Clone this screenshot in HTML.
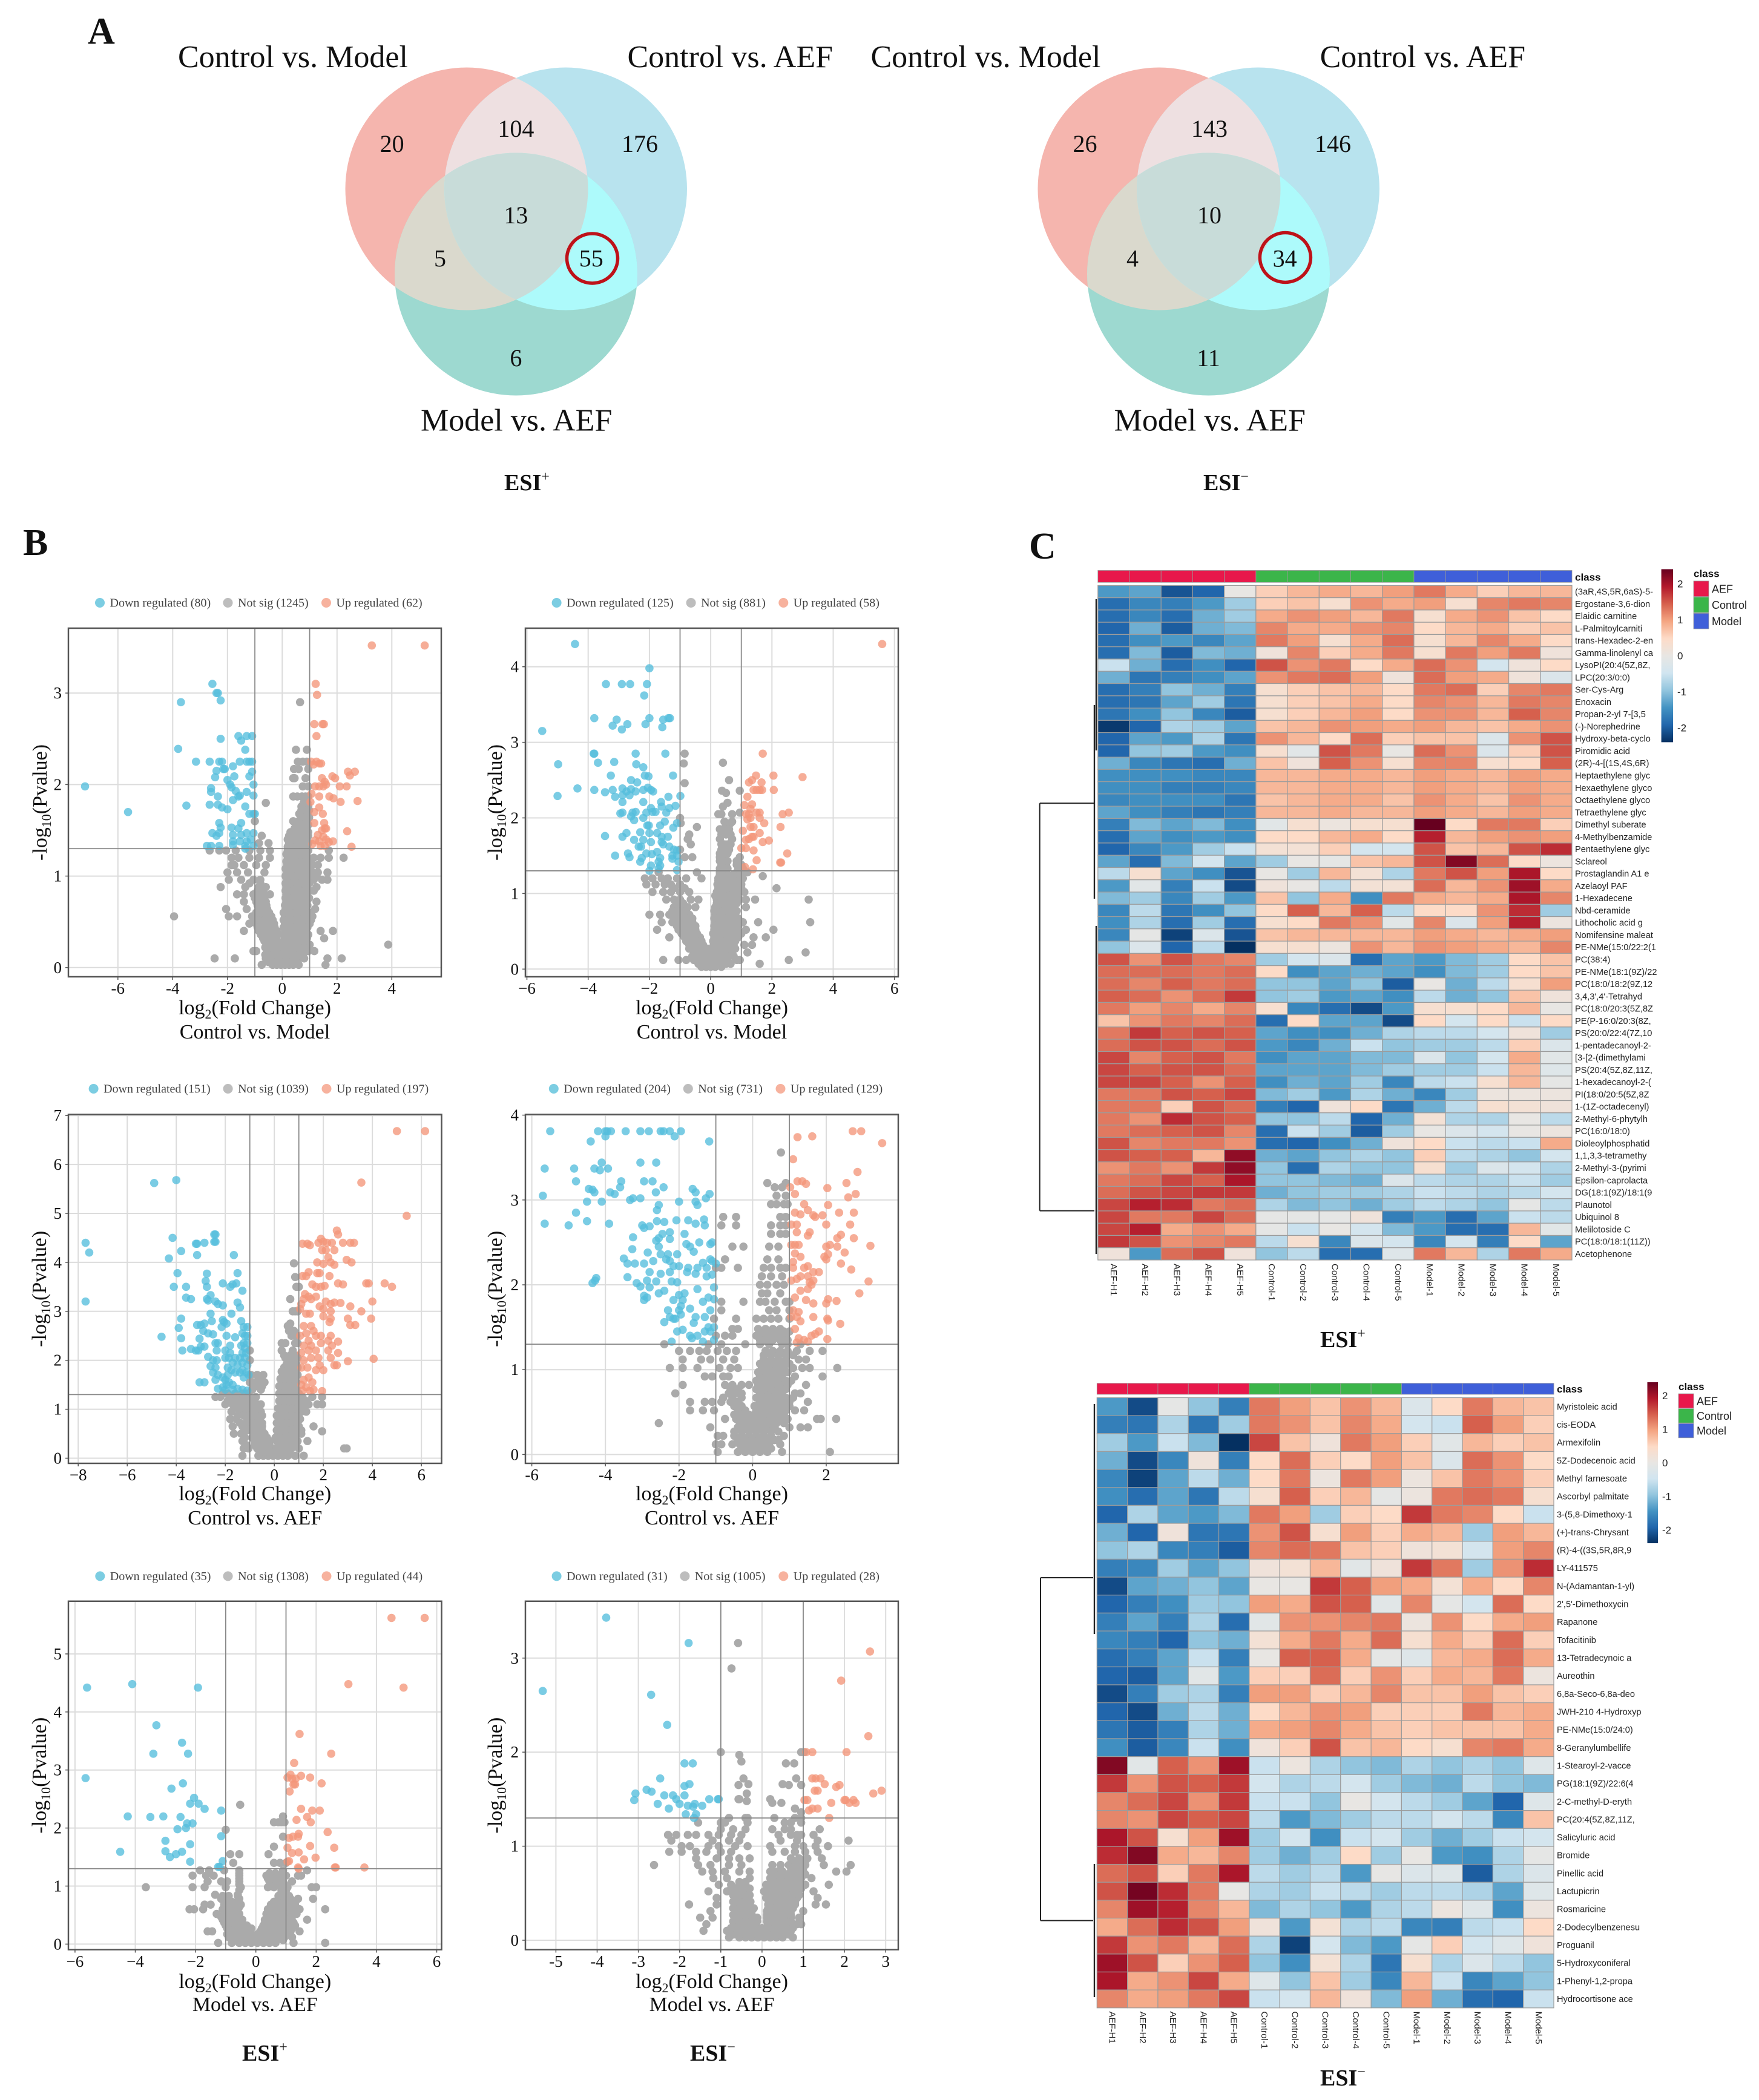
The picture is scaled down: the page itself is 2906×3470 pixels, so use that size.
<!DOCTYPE html>
<html lang="en">
<head>
<meta charset="utf-8">
<title>Venn diagrams, volcano plots and heatmaps</title>
<style>
html,body{margin:0;padding:0;background:#fff;}
svg{display:block;}
text{font-family:"Liberation Serif",serif;fill:#111;}
.sans{font-family:"Liberation Sans",sans-serif;}
</style>
</head>
<body>
<svg id="figure" xmlns="http://www.w3.org/2000/svg" width="2906" height="3470" viewBox="0 0 2906 3470">
<defs>
<clipPath id="clipC1"><circle cx="771" cy="312" r="200.5"/></clipPath>
<clipPath id="clipC2"><circle cx="934.5" cy="312" r="200.5"/></clipPath>
<linearGradient id="rdbu" x1="0" y1="0" x2="0" y2="1">
<stop offset="0" stop-color="#67001F"/><stop offset=".1" stop-color="#B2182B"/><stop offset=".2" stop-color="#D6604D"/><stop offset=".3" stop-color="#F4A582"/><stop offset=".4" stop-color="#FDDBC7"/><stop offset=".5" stop-color="#E8E6E3"/><stop offset=".6" stop-color="#D1E5F0"/><stop offset=".7" stop-color="#92C5DE"/><stop offset=".8" stop-color="#4393C3"/><stop offset=".9" stop-color="#2166AC"/><stop offset="1" stop-color="#053061"/>
</linearGradient>
</defs>
<rect width="2906" height="3470" fill="#fff"/>

<text x="145" y="72" font-size="62" font-weight="bold">A</text>
<text x="38" y="917" font-size="62" font-weight="bold">B</text>
<text x="1700" y="923" font-size="62" font-weight="bold">C</text>

<g>
<circle cx="771" cy="312" r="200.5" fill="#F5B5AE"/>
<circle cx="934.5" cy="312" r="200.5" fill="#B8E3EE"/>
<circle cx="852.5" cy="453" r="200.5" fill="#9DD9D0"/>
<g clip-path="url(#clipC1)"><circle cx="934.5" cy="312" r="200.5" fill="#EEE0E1"/></g>
<g clip-path="url(#clipC1)"><circle cx="852.5" cy="453" r="200.5" fill="#DAD9CD"/></g>
<g clip-path="url(#clipC2)"><circle cx="852.5" cy="453" r="200.5" fill="#ADFAFB"/></g>
<g clip-path="url(#clipC1)"><g clip-path="url(#clipC2)"><circle cx="852.5" cy="453" r="200.5" fill="#C8DCD9"/></g></g>
<g font-size="40" text-anchor="middle">
<text x="647.6" y="251">20</text>
<text x="852.4" y="226">104</text>
<text x="1057" y="251">176</text>
<text x="852.4" y="369">13</text>
<text x="727" y="440.5">5</text>
<text x="976.8" y="440.5">55</text>
<text x="852.4" y="605">6</text>
</g>
<ellipse cx="978.5" cy="427" rx="42" ry="41" fill="none" stroke="#BE1119" stroke-width="5.5"/>
<g font-size="52">
<text x="294" y="111">Control vs. Model</text>
<text x="1036.5" y="111">Control vs. AEF</text>
<text x="695" y="711.5">Model vs. AEF</text>
</g>
<text x="833" y="810" font-size="38" font-weight="bold">ESI<tspan dy="-15" font-size="24" font-weight="normal">+</tspan></text>
</g>

<g>
<g transform="translate(1144,0)">
<circle cx="771" cy="312" r="200.5" fill="#F5B5AE"/>
<circle cx="934.5" cy="312" r="200.5" fill="#B8E3EE"/>
<circle cx="852.5" cy="453" r="200.5" fill="#9DD9D0"/>
<g clip-path="url(#clipC1)"><circle cx="934.5" cy="312" r="200.5" fill="#EEE0E1"/></g>
<g clip-path="url(#clipC1)"><circle cx="852.5" cy="453" r="200.5" fill="#DAD9CD"/></g>
<g clip-path="url(#clipC2)"><circle cx="852.5" cy="453" r="200.5" fill="#ADFAFB"/></g>
<g clip-path="url(#clipC1)"><g clip-path="url(#clipC2)"><circle cx="852.5" cy="453" r="200.5" fill="#C8DCD9"/></g></g>
</g>
<g font-size="40" text-anchor="middle">
<text x="1792.5" y="251">26</text>
<text x="1998" y="226">143</text>
<text x="2202" y="251">146</text>
<text x="1998" y="369">10</text>
<text x="1871" y="440.5">4</text>
<text x="2122.6" y="440.5">34</text>
<text x="1996.5" y="605">11</text>
</g>
<ellipse cx="2123.4" cy="425.5" rx="42" ry="41" fill="none" stroke="#BE1119" stroke-width="5.5"/>
<g font-size="52">
<text x="1438.5" y="111">Control vs. Model</text>
<text x="2180.6" y="111">Control vs. AEF</text>
<text x="1840.6" y="711.5">Model vs. AEF</text>
</g>
<text x="1988" y="810" font-size="38" font-weight="bold">ESI<tspan dy="-15" font-size="24" font-weight="normal">−</tspan></text>
</g>

<text x="400" y="3405" font-size="38" font-weight="bold">ESI<tspan dy="-15" font-size="24" font-weight="normal">+</tspan></text>
<text x="1140" y="3405" font-size="38" font-weight="bold">ESI<tspan dy="-15" font-size="24" font-weight="normal">−</tspan></text>
<text x="2181" y="2226" font-size="38" font-weight="bold">ESI<tspan dy="-15" font-size="24" font-weight="normal">+</tspan></text>
<text x="2181" y="3446" font-size="38" font-weight="bold">ESI<tspan dy="-15" font-size="24" font-weight="normal">−</tspan></text>
</svg>

<script>
/* ---------- volcano data ---------- */
const plot1Counts=[80,1245,62];
const plot1XTicks=[-6,-4,-2,0,2,4];
const plot1YTicks=[0,1,2,3];
const plot1Down=[[-2.55,3.1],[-2.4,3],[-2.35,3],[-2.25,2.92],[-3.7,2.9],[-2.25,2.5],[-1.6,2.53],[-1.3,2.53],[-1.1,2.53],[-1.5,2.48],[-3.8,2.39],[-1.35,2.38],[-3.15,2.25],[-2.65,2.25],[-2.3,2.25],[-2.2,2.25],[-1.55,2.25],[-1.3,2.25],[-1.2,2.25],[-1.1,2.25],[-2.1,2.17],[-2.15,2.17],[-1.8,2.2],[-2.4,2.15],[-1.1,2.14],[-2.45,2.08],[-1.75,2.09],[-1.2,2.09],[-2,2.05],[-1.05,2],[-1.9,2],[-1.85,1.97],[-2.6,1.96],[-2.6,1.92],[-1.7,1.93],[-1.3,1.92],[-2.35,1.87],[-1.6,1.87],[-1.55,1.88],[-1.05,1.88],[-1.8,1.83],[-3.5,1.77],[-2.65,1.78],[-2.35,1.78],[-2.2,1.75],[-2,1.73],[-1.35,1.76],[-1.2,1.68],[-1.05,1.68],[-1,1.68],[-2.3,1.58],[-1.5,1.58],[-2.25,1.53],[-1.85,1.53],[-1.6,1.52],[-1.3,1.47],[-1.05,1.47],[-2.55,1.47],[-2.3,1.47],[-2.4,1.44],[-1.8,1.45],[-1.5,1.45],[-1.8,1.38],[-1.55,1.38],[-1.3,1.38],[-1.15,1.4],[-1.8,1.34],[-1.35,1.33],[-2.75,1.33],[-2.6,1.33],[-2.3,1.33],[-1.35,1.3],[-1.05,1.33],[-7.2,1.98],[-5.63,1.7]];
const plot1Up=[[3.27,3.52],[5.2,3.52],[1.22,3.1],[1.27,2.98],[1.17,2.66],[1.47,2.66],[1.52,2.66],[1.25,2.53],[1.05,2.25],[1.15,2.22],[1.25,2.25],[1.35,2.23],[1.42,2.23],[2.4,2.14],[2.65,2.14],[2.47,2.1],[1.45,2.07],[1.55,2.03],[1.83,2.09],[1.93,2.07],[1.2,1.98],[1.35,1.98],[1.5,1.98],[1.6,2],[2.1,1.98],[2.35,1.98],[1.07,1.9],[1.35,1.87],[1.72,1.87],[1.87,1.85],[2.13,1.81],[2.75,1.82],[1.03,1.81],[1.35,1.75],[1.17,1.7],[1.48,1.68],[1.17,1.58],[1.53,1.58],[1.55,1.52],[1.45,1.5],[1.6,1.52],[1.3,1.45],[1.5,1.43],[2.37,1.49],[1.6,1.4],[1.2,1.39],[1.35,1.38],[1.7,1.37],[1.85,1.38],[1.4,1.33],[1.55,1.33],[2.53,1.32],[1.1,1.35]];
const plot1GrayRows=[
[.03,-.75,-.35,-.2,-.05,.1,.25,.4,.6,1.58],[.1,-.6,-.45,-.3,-.15,0,.15,.3,.45,.6,.8,-2.47,-1.73,1.65,2.17],[.18,-.55,-.4,-.25,-.12,.12,.25,.4,.55,.7,.95,-1.05,-.95,1.17],[.25,-.55,-.4,-.25,-.1,.1,.25,.4,.55,.7,1,3.87],[.32,-.7,-.55,-.4,-.22,.1,.25,.4,.55,.7,.9,1.53],[.4,-.85,-.65,-.5,-.35,-.2,.1,.25,.4,.55,.7,.85,-1.4,1.4,1.85],[.48,-.95,-.75,-.6,-.45,-.3,.1,.25,.4,.55,.7,.85,1,-1.2],[.56,-1.1,-.85,-.7,-.55,-.4,.1,.25,.4,.55,.7,.85,1.1,-3.95,-1.65,-1.95],[.64,-1.3,-.85,-.7,-.55,.12,.25,.4,.55,.7,.85,1.2,-2.05],[.72,-1.4,-.95,-.75,-.6,.15,.3,.45,.6,.75,.9,1.25],[.8,-1.4,-1.05,-.85,-.65,-.45,.15,.3,.45,.6,.75,.9,-1.65],[.88,-2.25,-1.35,-.85,-.6,.15,.3,.45,.6,.75,.9,1.25],[.96,-1.95,-1.5,-1.05,-.8,.17,.3,.45,.6,.75,.9,1.15,1.45,1.65],[1.04,-2,-1.65,-1.25,-.65,.17,.3,.45,.6,.75,.9,1.1,1.3,1.65],[1.12,-1.75,-1.85,-1.4,-.95,-.6,.18,.32,.48,.62,.78,.92,1.1,1.3],[1.2,-1.85,-1.6,-1.2,-.85,-.45,.2,.35,.5,.65,.8,.95,1.15,1.4,1.7,2.24],[1.28,-2.65,-2.3,-2.05,-1.7,-1.2,-.8,-.45,.2,.35,.5,.65,.8,.95,1.7],[1.36,-.85,-.5,.25,.4,.55,.7,.85,.95],[1.44,-.75,.25,.4,.55,.7,.85,.95],[1.52,.45,.6,.75,.9],[1.6,-1,.4,.6,.75,.9],[1.68,.62,.78,.92],[1.76,.7,.85,.95],[1.8,-.6],[1.87,.4,.55,.72,.85,.95],[1.98,.75,.95],[2.07,.4,.45,.85],[2.17,.43,.6,.95],[2.25,.57,.75,.9],[2.38,.5,.9],[2.9,.65]];
const plot1GrayDense=[
[.06,-.5,-.35,-.2,-.05,.08,.2,.35,.5],[.14,-.62,-.48,-.35,-.2,-.08,.08,.2,.35,.5,.62,.75],[.22,-.62,-.48,-.33,-.18,.05,.18,.33,.48,.62,.78],[.29,-.65,-.48,-.33,-.18,.05,.18,.33,.48,.62,.8],[.36,-.78,-.62,-.48,-.3,-.15,.05,.18,.33,.48,.62,.78,.95],[.44,-.9,-.72,-.58,-.42,-.28,.05,.18,.33,.48,.62,.78,.92],[.52,-1,-.8,-.65,-.5,-.35,.05,.18,.33,.48,.62,.78,.92,1.05],[.6,-.95,-.78,-.62,-.48,.05,.18,.33,.48,.62,.78,.92,1.05],[.68,-.9,-.72,-.58,.1,.2,.33,.48,.62,.78,.92],[.76,-1,-.8,-.65,.12,.22,.38,.52,.68,.82,.98],[.84,-.9,-.72,.12,.22,.38,.52,.68,.82,.98,1.15],[.92,-1.2,-.8,.12,.22,.38,.52,.68,.82,.98],[1,.12,.22,.38,.52,.68,.82,.98,1.25],[1.08,.12,.25,.38,.52,.68,.82,.98],[1.16,.15,.25,.4,.55,.7,.85,1],[1.24,.15,.28,.42,.58,.72,.88],[1.32,.2,.32,.48,.62,.78,.9],[1.4,.2,.32,.48,.62,.78,.9],[1.48,.3,.52,.68,.82,.95],[1.56,.52,.68,.82,.95],[1.64,.68,.85,.98],[1.72,.7,.85,.98],[1.8,.78,.92]];

const plot2Counts=[125,881,58];
const plot2XTicks=[-6,-4,-2,0,2,4,6];
const plot2YTicks=[0,1,2,3,4];
const plot2Down=[[-4.43,4.3],[-2,3.98],[-3.42,3.77],[-2.9,3.77],[-2.63,3.77],[-2.08,3.77],[-2.17,3.62],[-3.8,3.32],[-3.07,3.3],[-2,3.32],[-1.55,3.3],[-1.38,3.32],[-1.33,3.32],[-3.2,3.22],[-2.72,3.24],[-2.13,3.24],[-1.58,3.2],[-2.9,3.17],[-5.5,3.15],[-3.8,2.85],[-3.82,2.85],[-2.45,2.85],[-1.48,2.85],[-3.68,2.73],[-3.15,2.74],[-4.98,2.71],[-2.43,2.71],[-2.2,2.67],[-3.26,2.56],[-2.15,2.56],[-2.03,2.55],[-1.23,2.56],[-2.6,2.5],[-2.4,2.47],[-4.35,2.39],[-3.8,2.37],[-3.45,2.34],[-3.2,2.37],[-2.88,2.39],[-2.6,2.38],[-2.75,2.35],[-2.45,2.35],[-2.2,2.37],[-2.05,2.4],[-1.95,2.37],[-1.88,2.35],[-5,2.29],[-3.12,2.28],[-2.88,2.3],[-2.65,2.3],[-1.38,2.28],[-.99,2.29],[-2.88,2.21],[-2.2,2.21],[-1.62,2.21],[-1.6,2.15],[-1.15,2.16],[-1.95,2.13],[-1.35,2.13],[-2.88,2.07],[-2.95,2.06],[-2.55,2.07],[-2.45,2.08],[-2.1,2.07],[-1.9,2.08],[-1.8,2.08],[-1.45,2.07],[-2.6,2.02],[-2.2,2],[-2.5,1.97],[-1.5,1.95],[-1.1,1.93],[-2.07,1.9],[-2.02,1.9],[-1.65,1.9],[-1.22,1.87],[-2.3,1.81],[-2,1.8],[-1.75,1.8],[-2.75,1.8],[-2.88,1.75],[-3.45,1.76],[-1.6,1.75],[-1.4,1.75],[-2.5,1.71],[-2.2,1.71],[-1.95,1.68],[-1.6,1.68],[-1.55,1.65],[-2.35,1.62],[-2.27,1.62],[-1.35,1.62],[-1.2,1.58],[-1.1,1.57],[-2.1,1.53],[-1.92,1.52],[-1.75,1.55],[-1.25,1.5],[-1.1,1.5],[-3.12,1.5],[-2.7,1.53],[-2.65,1.48],[-2.25,1.47],[-1.65,1.47],[-1.25,1.46],[-2.3,1.42],[-1.7,1.42],[-1.05,1.42],[-1.95,1.37],[-1.65,1.37],[-2,1.3],[-1.7,1.33],[-1.1,1.31]];
const plot2Up=[[5.6,4.3],[1.7,2.85],[3,2.54],[1.48,2.56],[2.05,2.56],[1.35,2.5],[1.25,2.47],[1.66,2.47],[1.4,2.37],[1.5,2.37],[1.6,2.37],[1.68,2.37],[2.06,2.37],[1.2,2.28],[1.35,2.18],[1.1,2.17],[1.3,2.12],[1.15,2.05],[1.25,2.05],[1.5,2.07],[1.6,2.07],[2.35,2.05],[2.55,2.07],[1.2,1.98],[1.3,2],[1.6,2],[1.75,1.93],[1.3,1.88],[1.4,1.88],[2.28,1.88],[1.05,1.83],[1.6,1.8],[1.35,1.75],[1.25,1.72],[1.15,1.71],[1.4,1.75],[1.7,1.68],[1.9,1.7],[1,1.6],[1.15,1.6],[1.4,1.57],[2.5,1.53],[1.5,1.44],[2.27,1.41],[2.3,1.41],[1.12,1.35],[1.38,1.32]];
const plot2GrayRows=[
[.03,-.3,-.15,0,.15,.35],[.07,1.6],[.12,-1.05,-.8,-.55,-.4,-.25,-.1,.05,.2,.35,.5,.85,.95,-1.55,2.55],[.22,-.55,-.4,-.25,-.1,.05,.2,.35,.5,.65,1.2,3.1],[.32,-.7,-.55,-.4,-.25,.1,.25,.4,.55,.75,1.35,1.1],[.42,-.85,-.7,-.5,-.35,.12,.25,.4,.55,.7,.9,-1.35,1.4,1.8],[.52,-1.05,-.85,-.7,-.5,.12,.3,.45,.6,.85,1.15,-1.75,2.05],[.62,-1.25,-.95,-.8,-.6,.15,.3,.45,.6,.8,1.05,-1.6,1.55,3.25],[.72,-1.35,-1.1,-.9,-.7,.15,.3,.45,.6,.8,-2,-1.65],[.82,-1.2,-1,-.75,-.5,.15,.3,.45,.6,.75,1.15],[.92,-1.45,-1.2,-1,-.65,-.4,.2,.35,.5,.7,.95,1.15,1.45,3.2],[1.02,-1.9,-1.55,-1.3,-1,-.7,.2,.35,.5,.75,.95,1.1],[1.07,2.15],[1.12,-2.1,-1.8,-1.5,-1.3,-1,.22,.38,.55,.8,1],[1.2,-2.15,-1.9,-1.6,-1.4,-1.1,-.8,-.3,.25,.4,.55,.85,1.05],[1.23,1.7],[1.28,-1.7,-.45,.3,.45,.85,1.05,1.2],[1.38,.35,.5,.85,1],[1.48,-.6,.3,.45,.95,-.85],[1.58,.35,.5,-1,.6],[1.65,-.65],[1.72,.3,.7,-.75],[1.78,-.7,.35,.5,.65],[1.88,-.45],[1.93,.55,.65,-.98],[2,-1],[2.05,.25,.35,.7],[2.07,.95],[2.15,.4],[2.2,.55],[2.33,.5],[2.36,.37,.95],[2.46,-.85],[2.5,.6],[2.72,-.88],[2.73,.4],[2.85,-.85]];
const plot2GrayDense=[
[.07,-.4,-.25,-.1,.05,.2,.35,.5,.65],[.17,-.6,-.45,-.3,-.15,0,.15,.3,.45,.6,.75],[.27,-.7,-.55,-.4,-.25,-.1,.08,.2,.35,.5,.65,.8],[.37,-.8,-.65,-.45,-.3,.08,.2,.35,.5,.65,.8],[.47,-.95,-.8,-.65,-.45,.08,.2,.35,.5,.65,.8,1],[.57,-1.1,-.95,-.8,-.65,-.5,.12,.25,.4,.55,.7,.9],[.67,-1.2,-1.05,-.9,-.75,-.6,.12,.25,.4,.55,.7,.9],[.77,-1.25,-1.1,-.95,-.8,.12,.25,.4,.55,.7,.85],[.87,.2,.3,.4,.5,.65,.85,-1.1,-.9],[.97,.15,.3,.45,.6,.85],[1.07,.25,.4,.55,.7,.85,1,-1.2,-.85],[1.17,.25,.4,.5,.7,.9],[1.25,.3,.4,.55,.75,.95],[1.33,.3,.42,.55,.9,1.05],[1.43,.3,.42,.55,.85],[1.53,.3,.42,.55],[1.65,.35,.45,.55,.65],[1.85,.3,.4,.6],[1.95,.45,.7]];

const plot3Counts=[151,1039,197];
const plot3XTicks=[-8,-6,-4,-2,0,2,4,6];
const plot3YTicks=[0,1,2,3,4,5,6,7];
const plot3Down=[[-4,5.68],[-4.9,5.62],[-2.45,4.57],[-2.4,4.57],[-4.15,4.5],[-2.45,4.42],[-2.4,4.42],[-3.2,4.38],[-3.15,4.38],[-2.85,4.4],[-7.7,4.4],[-7.55,4.2],[-3.8,4.23],[-3.15,4.15],[-1.65,4.15],[-4.3,4.08],[-3.95,3.78],[-2.75,3.77],[-1.5,3.78],[-2.8,3.62],[-4.1,3.5],[-3.6,3.5],[-2.75,3.5],[-2.1,3.57],[-1.7,3.55],[-1.55,3.57],[-1.8,3.5],[-1.3,3.42],[-2.6,3.33],[-3.6,3.28],[-3.4,3.25],[-2.75,3.25],[-2.7,3.22],[-7.7,3.2],[-2.4,3.2],[-2.3,3.15],[-2.1,3.12],[-1.5,3.18],[-1.4,3.08],[-1.75,2.95],[-2.6,2.95],[-3.8,2.85],[-2.55,2.8],[-2.1,2.82],[-2.05,2.78],[-1.35,2.8],[-3.15,2.72],[-3,2.72],[-2.85,2.75],[-3.9,2.66],[-2.15,2.68],[-1.95,2.75],[-1.25,2.68],[-1.1,2.68],[-2.9,2.6],[-2.7,2.55],[-2.5,2.53],[-1.95,2.5],[-1.6,2.47],[-1.3,2.55],[-1.2,2.5],[-1.1,2.5],[-4.6,2.48],[-3.8,2.45],[-3.05,2.44],[-2.4,2.35],[-2.3,2.35],[-1.8,2.3],[-1.35,2.3],[-1.25,2.35],[-1.1,2.35],[-1.2,2.25],[-3,2.28],[-2.85,2.28],[-3.1,2.2],[-3.4,2.23],[-3.75,2.2],[-3.2,2.2],[-2.35,2.2],[-2,2.2],[-1.8,2.15],[-1.3,2.15],[-1.15,2.15],[-2,2.05],[-1.85,2.05],[-1.6,2.05],[-1.4,2.05],[-1.2,2.05],[-2.7,2.07],[-2.5,2],[-2.35,2],[-1.7,1.95],[-1.5,1.9],[-1.3,1.95],[-1.1,1.9],[-2.6,1.88],[-2.4,1.85],[-1.9,1.85],[-1.75,1.8],[-1.3,1.8],[-1.15,1.75],[-2.5,1.75],[-2.3,1.7],[-2.1,1.65],[-1.9,1.7],[-1.6,1.75],[-1.4,1.75],[-1.25,1.65],[-1.05,1.7],[-2.4,1.6],[-2,1.6],[-1.85,1.55],[-3.05,1.55],[-2.85,1.55],[-2.1,1.45],[-1.95,1.5],[-1.7,1.5],[-2.3,1.42],[-2,1.4],[-1.7,1.4],[-1.5,1.42],[-1.3,1.4],[-1.1,1.38]];
const plot3Up=[[5,6.68],[6.15,6.68],[3.55,5.63],[5.4,4.95],[2.55,4.65],[2.6,4.57],[1.9,4.48],[1.15,4.38],[1.35,4.38],[1.45,4.35],[1.8,4.4],[2,4.42],[2.15,4.4],[2.35,4.4],[2.8,4.4],[3.1,4.4],[3.25,4.4],[1.95,4.25],[2.1,4.25],[2.45,4.25],[2.2,4.1],[2.3,4],[2.45,3.95],[1.75,4],[2,3.97],[2.95,4.05],[3.15,4],[1.15,3.72],[1.3,3.72],[1.4,3.8],[1.75,3.78],[1.85,3.78],[2.25,3.72],[1.55,3.55],[1.7,3.5],[1.9,3.5],[2.05,3.52],[2.6,3.57],[2.8,3.55],[3.75,3.57],[3.85,3.57],[4.5,3.57],[4.8,3.5],[1.25,3.35],[1.4,3.3],[1.2,3.25],[1.5,3.25],[1.7,3.3],[1.1,3.15],[1.85,3.1],[2.1,3.2],[2.3,3.15],[2.45,3.18],[2.7,3.17],[1.05,3.05],[2,3.05],[2.3,3],[3.1,3.1],[3.55,3],[4,3.2],[2,2.9],[1.3,2.95],[1.45,2.95],[2.3,2.85],[2.25,2.78],[3,2.85],[3.95,2.85],[3.1,2.72],[3.3,2.72],[1.2,2.7],[1.5,2.7],[1.6,2.6],[1.3,2.55],[1.7,2.5],[1.05,2.5],[1.4,2.4],[1.9,2.5],[2.3,2.5],[2.2,2.4],[2.6,2.38],[1.2,2.3],[1.5,2.3],[1.9,2.35],[2.35,2.3],[1.1,2.15],[1.4,2.2],[1.7,2.2],[2.2,2.2],[2.3,2.05],[2.6,2.15],[4.05,2.03],[3,1.98],[1.2,2],[1.5,2.05],[1.8,2.05],[2.45,1.9],[2.55,1.9],[1.1,1.85],[1.35,1.85],[1.7,1.8],[2,1.8],[1.85,1.9],[1.2,1.6],[1.4,1.65],[1.55,1.55],[1.1,1.5],[1.3,1.45],[1.6,1.4],[1.95,1.37],[1.15,1.38],[1.45,1.38]];
const plot3GrayRows=[
[.05,-1.3,-.65,-.45,-.25,-.05,.15,.35,.55,.85,1.2],[.2,-1.25,-1.05,-.7,-.5,-.3,-.1,.1,.3,.5,.7,1,2.85,2.95],[.35,-1.3,-.8,-.6,-.4,-.2,.1,.3,.5,.7,.95,1.35],[.5,-1.65,-1.35,-1.25,-.85,-.65,-.4,.2,.4,.6,.8,1.1],[.55,1.95],[.65,-1.7,-1.3,-1,-.75,-.5,.2,.4,.6,.8,1,1.6],[.8,-1.8,-1.55,-1.1,-.85,-.6,.2,.4,.6,.8,1.05],[.95,-1.75,-1.3,-1.05,-.8,-.55,.25,.45,.65,.85,1.1,1.3],[1.1,-2,-1.7,-1.4,-1.1,-.85,-.55,.3,.5,.7,.9,1.15,1.4,1.75,1.95],[1.25,-2.4,-2.2,-1.75,-1.5,-1.25,-1,-.75,.3,.5,.7,.9,1.15,1.55,1.95],[1.4,-.9,-.55,.3,.5,.7,.9],[1.55,-1,-.8,-.4,.3,.5,.7,.9],[1.7,-.95,-.7,-.45,.35,.55,.75,.95],[1.85,.4,.6,.8,.95],[2,-1,.55,.7,.85],[2.1,.4,.65,.85],[2.2,-1,.3,.75],[2.35,.3,.45,.85,.95],[2.5,.7,.9],[2.7,.55,.6],[2.75,.65],[3,.75,.85,.95],[3.25,.65],[3.5,.9,1],[3.7,.85],[3.98,.8]];
const plot3GrayDense=[
[.12,-.6,-.4,-.2,0,.2,.4,.6],[.27,-1.15,-.8,-.6,-.4,-.2,.2,.4,.6,.8],[.42,-1.2,-.9,-.7,-.5,-.3,.05,.25,.45,.65,.85],[.57,-1.1,-.9,-.7,-.5,.1,.3,.5,.7,.9,1.1],[.72,-1.4,-1.15,-.9,-.7,-.5,.1,.3,.5,.7,.9],[.87,-1.5,-1.25,-1,-.75,-.5,.1,.3,.5,.7,.95],[1.02,-1.5,-1.2,-.95,-.7,.15,.35,.55,.75,.95,1.2],[1.17,-1.9,-1.6,-1.3,-1,-.8,.2,.4,.6,.8,1,1.3],[1.32,-2.1,-1.9,-1.6,-1.3,-1.1,.2,.4,.6,.8,1],[1.47,.2,.4,.6,.8,-.7,-.5],[1.62,.25,.4,.6,.8,-.6],[1.77,.3,.45,.65,.85],[1.92,.5,.7,.9],[2.05,.45,.75,.95],[2.6,.6,.7,.8]];

const plot4Counts=[204,731,129];
const plot4XTicks=[-6,-4,-2,0,2];
const plot4YTicks=[0,1,2,3,4];
const plot4Down=[[-5.5,3.81],[-4.2,3.81],[-4,3.81],[-3.95,3.81],[-3.85,3.81],[-3.45,3.81],[-3.05,3.81],[-2.82,3.81],[-2.5,3.81],[-2.42,3.81],[-2.25,3.81],[-1.95,3.81],[-4,3.75],[-2.12,3.75],[-4.4,3.69],[-1.18,3.69],[-4.1,3.44],[-3.05,3.44],[-2.62,3.44],[-5.65,3.37],[-4.85,3.37],[-4.3,3.37],[-4.15,3.35],[-3.93,3.37],[-4.8,3.22],[-3.57,3.22],[-2.95,3.22],[-2.72,3.22],[-4.45,3.13],[-4.35,3.12],[-3.6,3.15],[-2.42,3.15],[-1.63,3.13],[-4.3,3.09],[-3.75,3.07],[-3.87,3.09],[-1.55,3.09],[-2.63,3.09],[-1.17,3.07],[-5.7,3.05],[-3.33,3],[-3.25,3.02],[-3.05,3.02],[-4.5,2.98],[-4.1,2.98],[-2,2.98],[-1.55,2.98],[-1.27,3.02],[-1.5,2.94],[-2.55,2.94],[-2.6,2.88],[-4.8,2.85],[-4.5,2.75],[-2.6,2.75],[-2.4,2.74],[-2.07,2.76],[-1.75,2.76],[-1.32,2.77],[-3.9,2.72],[-5.65,2.72],[-5,2.7],[-3,2.7],[-2.95,2.67],[-2.8,2.69],[-1.55,2.72],[-1.3,2.7],[-2.25,2.62],[-2.45,2.6],[-1.85,2.6],[-3.25,2.56],[-2.55,2.55],[-2.62,2.52],[-2.25,2.54],[-1.45,2.5],[-1.15,2.48],[-1.1,2.5],[-1.8,2.48],[-1.7,2.45],[-2.55,2.45],[-3.27,2.42],[-1.6,2.39],[-2.85,2.38],[-2.5,2.36],[-2.3,2.36],[-2.05,2.36],[-3.5,2.31],[-3.4,2.25],[-3.2,2.25],[-2.95,2.25],[-2.7,2.28],[-2.35,2.3],[-2.25,2.28],[-1.35,2.26],[-1.15,2.3],[-1,2.25],[-1.1,2.28],[-2.15,2.22],[-2,2.22],[-1.75,2.2],[-1.5,2.2],[-1.25,2.2],[-2.8,2.15],[-2.5,2.13],[-2.25,2.15],[-1.78,2.15],[-1.55,2.13],[-1.25,2.1],[-1.1,2.12],[-3.4,2.09],[-2.87,2.05],[-2.62,2.04],[-2.2,2.04],[-2.05,2.03],[-3.15,2.02],[-3.05,1.98],[-2.8,1.97],[-2.55,1.9],[-2.4,1.93],[-2,1.88],[-1.85,1.9],[-1.5,1.95],[-1.05,1.97],[-4.35,2.02],[-4.25,2.08],[-4.28,2.05],[-2.95,1.87],[-2.87,1.85],[-2.95,1.82],[-2.15,1.82],[-1.9,1.82],[-1.35,1.8],[-1.2,1.85],[-1.05,1.83],[-1.95,1.75],[-1.7,1.72],[-2.3,1.7],[-2,1.7],[-1.15,1.7],[-1.95,1.65],[-2.25,1.62],[-2.1,1.6],[-1.55,1.62],[-1.3,1.62],[-2.4,1.56],[-2.15,1.6],[-1.6,1.55],[-1.2,1.5],[-1.05,1.5],[-2.05,1.45],[-1.9,1.47],[-1.3,1.45],[-1.15,1.45],[-1.7,1.4],[-1.5,1.4],[-1.65,1.37],[-2.2,1.33],[-1.35,1.33],[-1.05,1.35]];
const plot4Up=[[2.72,3.81],[2.95,3.81],[1.22,3.74],[1.62,3.75],[3.52,3.67],[1.1,3.48],[2.85,3.33],[1.22,3.22],[1.35,3.22],[1.45,3.19],[2.55,3.2],[1.02,3.15],[2.03,3.14],[2.8,3.07],[1.15,3.07],[2.6,3.03],[1.4,2.95],[2.05,2.94],[1.5,2.88],[1.15,2.85],[1.3,2.83],[1.65,2.82],[1.7,2.8],[1.9,2.82],[2.35,2.85],[2.75,2.85],[1.05,2.71],[1.2,2.71],[2,2.71],[2.65,2.71],[1.2,2.62],[1.55,2.62],[2.4,2.59],[2.3,2.55],[2.75,2.55],[1.5,2.58],[1.05,2.47],[1.15,2.47],[1.25,2.47],[2.1,2.47],[2,2.45],[2.3,2.45],[3.2,2.46],[1.15,2.37],[1.3,2.33],[2.05,2.36],[2.5,2.38],[1.95,2.33],[2,2.3],[1.1,2.27],[2.4,2.25],[1.5,2.22],[1.1,2.2],[1.4,2.2],[2.68,2.18],[1.8,2.15],[1.65,2.15],[1.3,2.1],[1.5,2.1],[1.65,2.05],[1.05,2.05],[1.2,2.07],[1.55,2.03],[1.6,2],[3.15,2.04],[1.3,1.93],[1.5,1.95],[2.9,1.9],[1.15,1.85],[1.45,1.82],[2.05,1.83],[2,1.78],[1.65,1.78],[2.28,1.81],[1.1,1.7],[1.25,1.68],[1.05,1.62],[1.2,1.62],[1.65,1.62],[2.03,1.6],[2.05,1.58],[1.3,1.57],[2.38,1.54],[1.15,1.48],[1.8,1.45],[1.6,1.4],[1.7,1.42],[1.25,1.37],[1.4,1.35],[2.03,1.36],[1.2,1.32],[1.5,1.33]];
const plot4GrayRows=[
[.03,-.95,-.4,-.2,0,.2,.4,.8,2.1],[.12,-1,-.85,-.55,-.35,-.15,.05,.25,.45,.75],[.22,-.95,-.8,-.5,-.3,-.1,.1,.3,.5,.85],[.32,-1.15,-.4,-.2,0,.2,.4,.6,1,1.3,1.5],[.37,-2.55],[.42,-.75,-.45,-.25,-.05,.15,.35,.55,.75,.95,1.75,1.85,2.27],[.52,-1.7,-1.35,-1.05,-.4,-.2,.1,.3,.5,.7,.9,1.15,1.4],[.62,-1.7,-1.3,-1.1,-.85,-.6,-.4,.2,.4,.6,.8,1,1.5],[.72,-2.1,-.65,-.45,-.3,.2,.4,.6,.8,1.15,1.3],[.82,-1.9,-.75,-.55,-.3,-.1,.15,.35,.55,.75,.95,1.45],[.92,-1.3,-1.1,-.8,-.65,.2,.4,.6,.8,1.15,1.9],[1.02,-2.25,-1.9,-1.5,-.9,-.6,-.4,.25,.45,.65,.85,1.1,1.35,1.55,2.3],[1.12,-1.9,-1.4,-1.15,-.8,-.5,.3,.5,.7,.9,1.25,1.45],[1.22,-2,-1.7,-1.45,-1.25,-.95,-.7,-.45,.35,.55,.75,.95,1.2,1.55,1.9],[1.3,-2.4,-1.2,-.85,-.2,.2,.45,.8,.95,1.3],[1.4,-1,-.75,-.55,.1,.3,.5,.7,.9],[1.48,-.55,-.4,.15,.35,.55,.75],[1.6,-1.05,-.45,.1,.3,.5,.7,1],[1.7,-.85,.45,.65,1],[1.8,-.85,-.25,.2,.35,.6,.9,1],[1.9,.25,.4,.75],[2,.2,.4,.65,.85],[2.1,.25,.5,.8],[2.2,-1,-.85,-.4,.3,.5,.75,.9],[2.3,-.75,.4,.7],[2.45,-.55,-.25,.45,.7],[2.6,.5,.75,.9],[2.7,-.85,-.45,.5,.75,.9],[2.8,-.8,-.45,.75,.9],[2.95,.5,.65,.85,.95],[3.05,.65,.9],[3.15,.6,.8],[3.2,.4,.9],[3.56,.77]];
const plot4GrayDense=[
[.07,-.3,-.1,.1,.3,.5],[.17,-.4,-.2,0,.2,.4,.6,.7],[.27,-.5,-.3,-.1,.1,.3,.5,.7],[.37,-.35,-.15,.05,.25,.45,.65,.85],[.47,-.5,-.3,-.1,.05,.25,.45,.65,.85],[.57,-.5,-.3,.05,.25,.45,.65,.85,1],[.67,-.8,-.55,-.3,.1,.3,.5,.7,.9,1.1],[.77,-.6,-.4,.1,.3,.5,.7,.9],[.87,.1,.3,.5,.7,.9,1.05],[.97,.15,.35,.55,.75,.95],[1.07,.2,.4,.6,.8,1],[1.17,.3,.5,.7,.9,1.1],[1.35,.2,.35,.55,.75,.95],[1.45,.25,.45,.65,.85,1]];

const plot5Counts=[35,1308,44];
const plot5XTicks=[-6,-4,-2,0,2,4,6];
const plot5YTicks=[0,1,2,3,4,5];
const plot5Down=[[-5.6,4.42],[-4.1,4.48],[-1.92,4.42],[-3.3,3.77],[-2.45,3.47],[-3.4,3.28],[-2.25,3.28],[-5.65,2.86],[-2.42,2.77],[-2.8,2.68],[-2.05,2.52],[-2.18,2.42],[-1.9,2.42],[-1.7,2.33],[-1.15,2.3],[-4.25,2.2],[-3.5,2.19],[-3.07,2.2],[-2.5,2.19],[-2.28,2.08],[-2.1,2.08],[-2.6,1.98],[-2.32,2],[-3,1.78],[-1.15,1.86],[-2.18,1.72],[-4.5,1.59],[-3,1.6],[-2.65,1.55],[-2.45,1.59],[-2.85,1.5],[-2.18,1.42],[-1.1,1.43],[-1.25,1.33],[-1.2,1.33]];
const plot5Up=[[4.5,5.62],[5.6,5.62],[3.07,4.48],[4.9,4.42],[1.45,3.62],[2.5,3.28],[1.27,3.12],[1.15,2.92],[1.5,2.9],[1.05,2.87],[1.2,2.85],[1.32,2.85],[1.8,2.87],[1.3,2.75],[1.25,2.75],[2.18,2.77],[1.12,2.63],[1.5,2.33],[1.87,2.3],[2.12,2.3],[1.35,2.14],[1.7,2.19],[1.82,2.1],[2.38,1.93],[1.42,1.9],[1.23,1.85],[1.4,1.85],[1.1,1.83],[1.8,1.69],[2.6,1.66],[1.05,1.66],[1.2,1.57],[1.42,1.58],[1.98,1.49],[1.6,1.46],[1.1,1.43],[2.65,1.32],[2.62,1.32],[3.6,1.32],[1.42,1.3],[1.05,1.42],[1.4,1.32]];
const plot5GrayRows=[
[.02,-1.25,-.8,-.55,-.35,-.15,.05,.25,.45,.65,1.25,2.3],[.12,-.9,-.65,-.45,-.25,-.05,.15,.35,.55,.75,.95,1.2],[.22,-1.6,-1.45,-.85,-.65,-.45,-.2,.15,.35,.55,.75,.95,1.15,1.45],[.32,-1,-.75,-.55,-.3,.25,.45,.65,.85,1.05,1.3],[.42,-1.1,-.85,-.65,-.45,.3,.5,.7,.9,1.1,1.7],[.52,-1.3,-.95,-.75,-.55,.35,.55,.75,.95,1.15,1.35],[.6,-2.2,-2.05,-1.75,-1.1,-.85,-.6,.4,.6,.8,1,1.2,1.45,2.3],[.68,-1.7,-1.5,-1.05,-.75,-.5,.5,.7,.9,1.1,1.3],[.78,-1.15,-.9,-.55,.75,.95,1.15,1.4,1.9],[.85,-1.35,-.6,.8,1],[.98,-3.65,-2.1,-1.7,-1,-.5,.4,.6,.85,1.05,1.85,2],[1.08,-1.6,-1.15,-.95,-.55,.45,.65,.9,1.2],[1.18,-2.1,-1.65,-1.4,-.55,.35,.55,.8,1,1.4,1.5],[1.27,-1.85,-1.55,-1.05,-.55,.9,1.7],[1.4,-.75,.6,.8,1],[1.55,-.85,-.55,.42],[1.68,.6],[1.85,.9],[1.97,-1],[2.1,.6,.75,.85,.95],[2.2,.9],[2.4,-.52]];
const plot5GrayDense=[
[.07,-.7,-.5,-.3,-.1,.1,.3,.5,.7,.9],[.17,-.95,-.75,-.55,-.35,-.15,.05,.25,.45,.65,.85,1.05],[.27,-.95,-.75,-.55,-.35,-.15,.2,.4,.6,.8,1,1.2],[.37,-1.05,-.85,-.65,-.45,.3,.5,.7,.9,1.1,1.25],[.47,-1.15,-.95,-.75,-.55,.4,.6,.8,1,1.2],[.56,-1,-.8,-.6,.45,.65,.85,1.05,1.25],[.64,-.95,-.75,-.55,.5,.7,.9,1.1],[.73,-1,-.8,-.6,.6,.8,1,1.2],[.83,-1.1,-.9,-.6,.75,.9,1.1],[.93,-.55,.85,1],[1.03,-.55,.5,.7,.95],[1.13,-.55,.4,.6,.85],[1.22,-.55,.45,.65,.9]];

const plot6Counts=[31,1005,28];
const plot6XTicks=[-5,-4,-3,-2,-1,0,1,2,3];
const plot6YTicks=[0,1,2,3];
const plot6Down=[[-3.78,3.43],[-1.78,3.16],[-5.32,2.65],[-2.69,2.61],[-2.3,2.29],[-1.88,1.88],[-1.68,1.88],[-2.47,1.72],[-1.88,1.64],[-1.76,1.66],[-3.07,1.56],[-2.8,1.6],[-2.68,1.58],[-2.37,1.54],[-2.16,1.54],[-1.88,1.54],[-3.1,1.49],[-2.08,1.5],[-1.28,1.5],[-1.07,1.5],[-1.05,1.5],[-2,1.45],[-2.53,1.45],[-1.8,1.43],[-1.67,1.42],[-1.63,1.45],[-1.45,1.43],[-2.26,1.4],[-1.85,1.34],[-1.6,1.34],[-1.65,1.3]];
const plot6Up=[[2.62,3.07],[1.92,2.76],[2.58,2.17],[1.07,2],[1.22,2],[2.05,2],[1.22,1.72],[1.3,1.72],[1.42,1.72],[1.52,1.66],[1.8,1.63],[1.88,1.65],[1.28,1.59],[1.35,1.59],[2.7,1.56],[2.9,1.59],[1.03,1.49],[1.1,1.49],[2,1.49],[2.03,1.49],[2.22,1.49],[1.68,1.46],[2.12,1.46],[2.27,1.46],[1.22,1.4],[1.35,1.4],[1.14,1.38],[1.63,1.3]];
const plot6GrayRows=[
[.03,-.8,-.55,-.4,-.25,-.1,.05,.2,.35,.5,.75],[.1,-1.42,-.85,-.65,-.5,-.35,-.2,-.05,.1,.25,.4,.55,.7],[.17,-1.35,-.6,-.45,-.3,-.15,.15,.3,.45,.6,.85,.95],[.24,-1.5,-1.2,-.6,-.45,-.3,-.12,.12,.25,.4,.55,.7,.9],[.31,-1.25,-.55,-.4,-.25,.12,.25,.4,.55,.7,1],[.38,-1.77,-1.1,-.6,-.45,-.3,.15,.3,.45,.6,.8,1.3,1.55],[.45,-1.1,-.65,-.5,-.35,.1,.25,.4,.55,.7,.85,1.35],[.52,-1.3,-.85,-.65,-.5,-.35,.05,.2,.35,.5,.65,.8,1.25],[.59,-1.05,-.75,-.55,-.4,.1,.25,.4,.55,.7,.85,1.05,1.62],[.66,-1.18,-.85,-.3,.2,.35,.5,.65,.8,.95,1.2],[.73,-1.45,-1.2,-.9,-.55,-.3,.2,.35,.5,.7,.85,1,1.8,2.05],[.8,-2.62,-1.55,-1.25,-.8,-.5,.25,.45,.65,.85,1.05,1.5,2.15],[.87,-1.6,-1.1,-.8,-.55,-.3,.7,.9,1.1,1.45],[.94,-2.25,-1.95,-1.6,-1.35,-1,-.75,.25,.55,.8,1.05,1.35],[1,-1.95,-1.75,-1.3,-1.05,-.65,-.35,.2,.8,1,1.3,1.6],[1.06,-2.2,-1.2,-.8,-.55,.45,.85,1.35,2.1],[1.12,-2.28,-2.08,-1.8,-1.6,-1.3,-1.05,-.75,-.5,.4,.7,.85,.95,1.25],[1.18,-1,-.7,-.4,.25,.55,.7,1.4],[1.25,-1.55,-1,-.9,-.35,.55,.7,.95],[1.3,-.8,-.4,-.35,.3,.8,.95],[1.36,.95],[1.4,.8],[1.48,-.37],[1.46,.25,.47],[1.5,-.57,-.55,.2],[1.56,-.37],[1.65,-.57,.65,.95],[1.66,-.33,.5],[1.72,-.45,.83],[1.88,.58,.78],[1.9,-.5],[1.97,-.55],[2,-1,.95,1.02],[2.89,-.74],[3.16,-.58]];
const plot6GrayDense=[
[.06,-.7,-.55,-.4,-.25,-.1,.05,.2,.35,.5,.65],[.13,-.75,-.6,-.45,-.3,-.15,0,.15,.3,.45,.6,.75],[.2,-.7,-.55,-.4,-.25,-.12,.12,.25,.4,.55,.7],[.27,-.7,-.55,-.4,-.25,.12,.25,.4,.55,.7],[.34,-.7,-.5,-.35,-.2,.15,.3,.45,.6,.75],[.41,-.7,-.55,-.4,-.28,.2,.35,.5,.65,.8],[.48,-.7,-.55,-.42,-.3,.15,.3,.45,.6,.75,.9],[.55,-.75,-.6,-.45,-.3,.15,.3,.45,.6,.75,.95],[.62,-.55,-.4,.3,.45,.6,.75,.9],[.7,.3,.45,.6,.75,.9,1.05],[.77,.7,.85,1],[.84,.8,.95,1.05]];

/* ---------- heatmap data ---------- */
const sampleNames=["AEF-H1","AEF-H2","AEF-H3","AEF-H4","AEF-H5","Control-1","Control-2","Control-3","Control-4","Control-5","Model-1","Model-2","Model-3","Model-4","Model-5"];
const sampleClasses=[0,0,0,0,0,1,1,1,1,1,2,2,2,2,2];
const classNames=["AEF","Control","Model"];
const classColors=["#E8184B","#3BB54A","#3F5FD9"];
const colorbarTicks=[2,1,0,-1,-2];

const heatTopRows=["(3aR,4S,5R,6aS)-5-","Ergostane-3,6-dion","Elaidic carnitine","L-Palmitoylcarniti","trans-Hexadec-2-en","Gamma-linolenyl ca","LysoPI(20:4(5Z,8Z,","LPC(20:3/0:0)","Ser-Cys-Arg","Enoxacin","Propan-2-yl 7-[3,5","(-)-Norephedrine","Hydroxy-beta-cyclo","Piromidic acid","(2R)-4-[(1S,4S,6R)","Heptaethylene glyc","Hexaethylene glyco","Octaethylene glyco","Tetraethylene glyc","Dimethyl suberate","4-Methylbenzamide","Pentaethylene glyc","Sclareol","Prostaglandin A1 e","Azelaoyl PAF","1-Hexadecene","Nbd-ceramide","Lithocholic acid g","Nomifensine maleat","PE-NMe(15:0/22:2(1","PC(38:4)","PE-NMe(18:1(9Z)/22","PC(18:0/18:2(9Z,12","3,4,3',4'-Tetrahyd","PC(18:0/20:3(5Z,8Z","PE(P-16:0/20:3(8Z,","PS(20:0/22:4(7Z,10","1-pentadecanoyl-2-","[3-[2-(dimethylami","PS(20:4(5Z,8Z,11Z,","1-hexadecanoyl-2-(","PI(18:0/20:5(5Z,8Z","1-(1Z-octadecenyl)","2-Methyl-6-phytylh","PC(16:0/18:0)","Dioleoylphosphatid","1,1,3,3-tetramethy","2-Methyl-3-(pyrimi","Epsilon-caprolacta","DG(18:1(9Z)/18:1(9","Plaunotol","Ubiquinol 8","Melilotoside C","PC(18:0/18:1(11Z))","Acetophenone"];
const heatTopValues=[
[-1.2,-1.1,-2,-1.8,0,.4,.6,.7,.6,.8,1.1,.7,.4,.6,.6],
[-1.7,-1.4,-1.5,-1.2,-.7,.4,.5,.2,.9,.7,.8,.2,1,1.1,1],
[-1.7,-1.4,-1.7,-1,-.7,.7,.9,.8,.6,1.1,.2,.7,.9,.5,.3],
[-1.8,-1,-1.9,-1,-.9,1,.7,.7,.9,1,.3,.6,.7,.4,.5],
[-1.7,-1.3,-1.2,-1.4,-1.1,1.1,.8,.2,.7,1.2,.2,.6,1,.7,.3],
[-1.7,-.9,-1.9,-.9,-1,.1,1,.4,.7,1.1,.2,1.1,.8,1.1,.1],
[-.4,-1,-1.7,-1.3,-1.8,1.4,.9,1.1,.3,.7,1.2,.9,-.3,.1,.3],
[-1,-1.6,-1.5,-1.3,-1.1,.9,1.1,1.2,.8,.1,1.2,.8,.7,.1,-.2],
[-1.7,-1.5,-.8,-1,-1.5,.2,.4,.5,.6,.3,1.1,1.2,.4,1,1.1],
[-1.7,-1.6,-1.1,-.7,-1.6,.2,.4,.5,.7,.3,1,.9,.6,1.1,1],
[-1.6,-1.3,-.8,-1.4,-1.9,.2,.4,.6,.8,.3,.9,.9,.6,1.3,1],
[-2.3,-1.8,-.6,-.7,-1.1,.5,.6,.9,.8,.7,.8,.6,.5,.7,.9],
[-1.8,-1.1,-1.2,-.6,-1.6,.9,.6,.3,1.2,.4,.5,.5,-.2,.9,1.4],
[-1.8,-.8,-.7,-1.2,-1.3,.2,-.1,1.4,1.1,0,1.2,.9,-.2,.4,1.4],
[-1,-1.4,-1.6,-1.7,-1,.5,.1,1.3,.9,.2,1,1,.2,.3,1.3],
[-1.3,-1.3,-1.3,-1.4,-1.4,.6,.6,.7,.7,.6,.8,.7,.6,.8,.7],
[-1.3,-1.3,-1.5,-1.5,-1.4,.6,.6,.7,.7,.6,.8,.7,.6,.8,.7],
[-1.4,-1.3,-1.3,-1.3,-1.6,.5,.6,.7,.7,.5,.9,.7,.5,.9,.7],
[-1.1,-1.3,-1.5,-1.6,-1.5,.6,.6,.7,.6,.6,.8,.7,.6,.8,.7],
[-1.5,-.9,-1.1,-.9,-1.3,-.1,.2,.05,.2,.2,2.4,.3,1.1,1.1,.4],
[-1.7,-1.1,-1.3,-1.2,-1.3,.3,.3,.6,.7,.3,1.8,.6,.8,.9,.8],
[-1.8,-1.4,-1.2,-.7,-.4,.15,.15,.4,-.3,-.3,1.4,.5,.6,1.4,1.7],
[-1.1,-1.7,-.9,-.3,-1.1,-.7,0,-.05,.5,.6,1.4,2.2,1.2,.3,.05],
[-.5,.2,-1.1,-1.3,-2,0,-.7,.6,.15,-.6,1.1,1.4,.8,1.9,.3],
[-1.2,-.1,-1.5,-.4,-2.1,.1,0,-.5,.15,.15,1.2,.6,.9,2,.7],
[-.9,-.7,-1.4,-.7,-1.2,.5,-.8,.7,-1.3,1.1,.7,.6,.7,1.9,1],
[-1.4,-.5,-1.6,-1.3,-.8,.3,1.3,.6,1.3,-.5,.3,.3,.9,1.7,-.7],
[-1.3,-.6,-1.7,-.7,-1.7,.2,.3,1.1,.9,-.1,1,-.2,.8,1.8,.05],
[-1.4,-.05,-2.2,-.2,-2,.5,.6,.6,.6,.6,.8,.7,.6,.7,.8],
[-.8,-.2,-1.8,-.5,-2.4,.2,.2,.05,.9,.6,.9,.8,.7,.6,1],
[1.4,.9,1.4,1.1,1,-.7,-.3,-.2,-1.7,-1.1,-1.2,-.9,-.7,.3,.5],
[1.2,1.2,1.2,1.1,1.2,.3,-1.3,-1.1,-1,-1.1,-1.3,-.9,-.7,.3,.5],
[1.2,1,1.3,1.1,1.2,-.8,-.8,-1.1,-.8,-1.9,0,-1,-.5,.2,.8],
[1.3,1.2,.9,1.2,1.6,-.8,-.7,-1.2,-1.1,-1.3,-.5,-1,-.8,.5,.1],
[1.1,.8,1,.7,1,.2,-1.4,-1.7,-2.1,-1.2,.2,.2,.3,.6,0],
[.5,.9,1.1,1,1.2,-1.7,.3,-1.1,-1.1,-2.1,.3,-.3,.3,-.4,.3],
[1.1,1.6,1.3,1.4,1.3,-1.1,-1.3,-1.3,-1,-.6,-.5,-.5,-.3,.1,-.7],
[1.2,1.4,1.4,1.2,1.4,-1.2,-1.4,-1,-.4,-.8,-.7,-.7,-.5,.4,-.2],
[1.5,1,1.3,1.4,1.1,-1.3,-1.1,-1.1,-.9,-.9,-.2,-.8,-.3,.7,-.1],
[1.5,1.3,1.4,1.4,1.2,-1.1,-1.1,-1.1,-.9,-.7,-.7,-.7,-.4,.6,-.15],
[1.5,1.5,1.3,.9,1.3,-1.3,-1,-1.1,-.7,-1.4,-.5,-.4,.2,.6,-.05],
[1.1,1.1,1.4,1.3,1.5,-.9,-.7,-1.2,-.6,-1,-1.4,-.7,.05,.05,.05],
[1.1,1.1,.4,1.4,1.2,-1.5,-1.8,.1,.3,-1.6,-1,-.5,.2,.15,.1],
[1.1,.9,1.7,1.4,1.3,-.8,-.8,-.5,-1.8,-1,.15,-.6,-.6,0,-.5],
[1.1,1.2,1.3,1.4,1,-1.7,-.4,-.7,-1.9,-.7,0,-.2,-.3,0,.05],
[1.4,1,1.1,1.1,.9,-1.7,-1.8,-1.3,-1,.1,.3,-.4,-.5,-.4,.7],
[1.4,1.3,1.3,.6,2.1,-1,-1.1,-.8,-.6,-.8,.4,-.5,-.6,-.8,-.3],
[.9,1.1,.9,1.6,2.1,-.8,-1.7,-.6,-.8,-.8,.2,-.7,-.2,-.3,-.6],
[1.1,1.2,1.5,1.3,1.9,-.8,-.8,-.9,-1,-.2,-.5,-.6,-.6,-.4,-.7],
[1.2,1.4,1.5,1.6,1.6,-1,-.8,-.7,-.7,-.6,-.4,-.5,-.6,-.5,-.3],
[1.5,1.8,1.7,1.1,1.2,-.6,-.9,-.8,-1,-.7,-.5,-.6,-.8,-.05,-.5],
[1.5,1.1,1.1,1.5,1.2,-.05,-.05,-.05,.1,-1.5,-1.2,-1.7,-1.1,-.4,-.5],
[1.5,1.8,.7,.9,.7,-.05,-.4,0,-.3,-.9,-1.2,-1.7,-1.7,.6,-.1],
[1.6,1.4,.9,1,1.1,-.5,.2,-1.4,-.2,-.3,-1.4,-.3,-1.5,.3,-1.1],
[.1,-1.2,1.2,1.4,.1,-.8,-.5,-1.7,-1.7,-.15,1.1,.6,-.6,1.1,.7]];

const heatBottomRows=["Myristoleic acid","cis-EODA","Armexifolin","5Z-Dodecenoic acid","Methyl farnesoate","Ascorbyl palmitate","3-(5,8-Dimethoxy-1","(+)-trans-Chrysant","(R)-4-((3S,5R,8R,9","LY-411575","N-(Adamantan-1-yl)","2',5'-Dimethoxycin","Rapanone","Tofacitinib","13-Tetradecynoic a","Aureothin","6,8a-Seco-6,8a-deo","JWH-210 4-Hydroxyp","PE-NMe(15:0/24:0)","8-Geranylumbellife","1-Stearoyl-2-vacce","PG(18:1(9Z)/22:6(4","2-C-methyl-D-eryth","PC(20:4(5Z,8Z,11Z,","Salicyluric acid","Bromide","Pinellic acid","Lactupicrin","Rosmaricine","2-Dodecylbenzenesu","Proguanil","5-Hydroxyconiferal","1-Phenyl-1,2-propa","Hydrocortisone ace"];
const heatBottomValues=[
[-1.2,-2.1,-.05,-.8,-1.5,1.1,.8,.5,.9,.6,-.2,.3,1.1,.6,.5],
[-1.5,-1.6,-.6,-1.6,-.7,1.1,.9,.5,1,.7,-.3,-.4,1.3,.8,.4],
[-.7,-1.2,-.4,-.9,-2.4,1.5,.5,.1,1.1,.8,.4,-.1,.6,.4,.5],
[-1,-2.1,-1.4,.1,-1.5,.3,1.2,.4,.3,.8,.5,-.2,1.2,.9,.3],
[-1.4,-2.2,-1.1,-.5,-1,.3,1.1,.05,1.1,.8,.05,.5,1.1,.9,.4],
[-1.3,-1.7,-1.1,-1.6,-.5,.2,1.3,.4,.6,-.05,.05,1.1,1.2,1.1,.2],
[-1.8,-.6,-1.1,-1.2,-.9,1.1,.8,-.7,.4,.3,1.6,1.1,1,.3,-.4],
[-1,-1.8,.1,-1.6,-1.6,.9,1.4,.2,.8,.4,.7,.6,-.7,.8,.6],
[-.8,-.6,-1.4,-1.5,-1.9,1,1.2,1.1,.5,.4,.1,.15,-.3,.8,1],
[-1.5,-1.4,-.7,-1.1,-.8,.1,.15,.6,-.1,.1,1.6,1.1,-.7,.9,1.7],
[-2.1,-1.1,-1,-.8,-1.1,0,0,1.6,1.3,.8,.7,.15,.7,.3,1],
[-1.8,-1.5,-1.3,-.7,-.8,.8,.7,1.4,1.3,-.1,1,-.05,-.3,1.2,.3],
[-1.5,-1.1,-1.5,-.6,-1.7,-.1,.9,.9,1,1.1,.05,.9,.3,.7,.8],
[-1.4,-1.5,-1.8,-.8,-1,.15,.7,1.1,.7,1.2,.2,.7,.4,1.2,.4],
[-1.7,-1.5,-1.1,-.4,-1.5,0,1.3,1.3,.7,-.05,-.15,.6,.7,1.2,.7],
[-1.8,-1.9,-1.1,-.1,-1.2,.4,.4,1.2,.4,.9,.4,.7,.6,1.1,.05],
[-2.1,-1.5,-.7,-.6,-1.5,.8,.8,.4,.6,1,.5,.5,.8,.5,.4],
[-1.8,-2.1,-1,-.5,-1,.3,.6,.9,.8,.4,.4,.4,1.1,.6,.7],
[-1.6,-1.9,-1.5,-.6,-1,.7,.8,1,.7,.5,.4,.5,.5,.5,.7],
[-1.3,-1.9,-1.4,-.4,-1.3,.1,.4,1.4,.5,.6,.3,.2,1,1.1,.7],
[2.2,-.1,1.3,.9,2,-.4,.05,-.6,-.8,-.9,-.6,-.8,-.6,-.8,-.15],
[1.6,.9,1.4,1.3,1.6,-.3,-.6,-.5,-.3,-.7,-.9,-1,-.5,-.8,-.9],
[1,1.2,1.5,.9,1.6,-.4,-.4,-.8,0,-.3,-.5,-.7,-1.1,-1.8,-.15],
[1,.9,1.5,1.3,1.5,-.5,-1.2,-.9,-.7,-.5,-.5,-.3,-.5,-1.4,.5],
[1.9,1.4,.2,.8,2,-.7,-.3,-1.3,-.4,-.3,-.7,-1,-.7,-.4,-.3],
[1.7,2.2,.7,.6,1,-.7,-1,-.7,.3,-.7,0,-1.2,-1.3,-.6,-.05],
[1.2,1.4,.4,1.1,1.9,-.5,-.7,-.5,-1.2,-.02,-.2,-.15,-1.9,-.6,-.2],
[1.4,2.3,1.7,1.1,-.02,-.6,-.7,-.4,-.5,-.7,-.5,-.5,-.6,-1.1,-.15],
[1,2,1.8,1,.6,-.9,-.6,-.8,-1.2,-.6,-.5,.05,-.15,-1.3,.05],
[.7,1.2,1.7,1.4,.8,.1,-1.2,.15,-.6,-.5,-1.4,-1.5,-.5,-.4,.3],
[1.6,.9,1.1,.6,1.2,-.6,-2.2,-.3,-.9,-1.2,-.05,.4,-.3,-.15,.1],
[2,1.4,.4,.9,1.3,-.8,-1.3,.15,-.6,-1.6,.2,-.6,-.2,-.5,-.8],
[1.9,.7,.9,1.5,.7,-.15,-.8,.5,-.7,-1.4,.6,-.4,-1.4,-1.1,-.8],
[1,.7,.8,1.1,1.5,-.4,-.3,.6,.1,-.9,.8,-1,-1.7,-1.8,-.4]];

/* ---------- helpers ---------- */
const NS='http://www.w3.org/2000/svg';
const root=document.getElementById('figure');
function mk(parent,tag,attrs,txt){
  const el=document.createElementNS(NS,tag);
  for(const k in attrs){el.setAttribute(k,attrs[k]);}
  if(txt!==undefined){el.textContent=txt;}
  parent.appendChild(el);
  return el;
}
function fmt(v,useMinus){return v<0?(useMinus?'\u2212':'-')+Math.abs(v):String(v);}

/* ---------- volcano plots ---------- */
const DOT_DOWN='rgba(84,190,220,.78)',DOT_GRAY='rgb(170,170,170)',DOT_UP='rgba(243,150,122,.78)';
function drawVolcano(cfg,down,up,grayRows,xTicks,yTicks,counts){
  const g=mk(root,'g',{});
  
  
  const sx=v=>cfg.x0+v*cfg.kx;
  const sy=v=>cfg.y0-v*cfg.ky;
  const f=cfg.frame;

  // legend
  const legendNames=['Down regulated','Not sig','Up regulated'];
  const legendCols=['#7CCDE2','#BDBDBD','#F7B29E'];
  legendNames.forEach((nm,i)=>{
    const d=mk(g,'circle',{cx:cfg.legendDots[i],cy:cfg.legendY,r:8,fill:legendCols[i]});
    
    
    const t=mk(g,'text',{x:cfg.legendDots[i]+16.5,y:cfg.legendY+6.5,'font-size':20,style:'fill:#444'},nm+' ('+counts[i]+')');
    
    
  });

  // grid
  xTicks.forEach(v=>{
    const l=mk(g,'line',{x1:sx(v),x2:sx(v),y1:f.t,y2:f.b,stroke:'#DCDCDC','stroke-width':2});
    
    
    const tk=mk(g,'line',{x1:sx(v),x2:sx(v),y1:f.b,y2:f.b+5,stroke:'#555','stroke-width':1.5});
    
    
    const t=mk(g,'text',{x:sx(v),y:cfg.tickBase,'font-size':27,'text-anchor':'middle'},fmt(v,cfg.minus));
    
    
  });
  yTicks.forEach(v=>{
    const l=mk(g,'line',{x1:f.l,x2:f.r,y1:sy(v),y2:sy(v),stroke:'#DCDCDC','stroke-width':2});
    
    
    const tk=mk(g,'line',{x1:f.l-5,x2:f.l,y1:sy(v),y2:sy(v),stroke:'#555','stroke-width':1.5});
    
    
    const t=mk(g,'text',{x:f.l-11,y:sy(v)+9,'font-size':27,'text-anchor':'end'},String(v));
    
    
  });

  // points
  grayRows.forEach(row=>{
    for(let i=1;i<row.length;i++){
      const c=mk(g,'circle',{cx:sx(row[i]),cy:sy(row[0]),r:6.8,fill:DOT_GRAY});
      
      
    }
  });
  down.forEach(p=>{
    const c=mk(g,'circle',{cx:sx(p[0]),cy:sy(p[1]),r:6.8,fill:DOT_DOWN});
    
    
  });
  up.forEach(p=>{
    const c=mk(g,'circle',{cx:sx(p[0]),cy:sy(p[1]),r:6.8,fill:DOT_UP});
    
    
  });

  // thresholds
  [-1,1].forEach(v=>{
    const l=mk(g,'line',{x1:sx(v),x2:sx(v),y1:f.t,y2:f.b,stroke:'#8a8a8a','stroke-width':1.8});
    
    
  });
  const h=mk(g,'line',{x1:f.l,x2:f.r,y1:sy(1.3),y2:sy(1.3),stroke:'#8a8a8a','stroke-width':1.8});
  
  

  // frame
  const fr=mk(g,'rect',{x:f.l,y:f.t,width:f.r-f.l,height:f.b-f.t,fill:'none',stroke:'#555','stroke-width':2.5});
  
  

  // titles
  const cx=(f.l+f.r)/2;
  const xt=mk(g,'text',{x:cx,y:cfg.titleBase,'font-size':34,'text-anchor':'middle'});
  
  
  xt.appendChild(document.createTextNode('log'));
  mk(xt,'tspan',{dy:7,'font-size':22},'2');
  mk(xt,'tspan',{dy:-7},'(Fold Change)');
  const st=mk(g,'text',{x:cx,y:cfg.subBase,'font-size':34,'text-anchor':'middle'},cfg.sub);
  
  
  const cy=(f.t+f.b)/2;
  const yt=mk(g,'text',{transform:'translate('+cfg.yTitleX+','+cy+') rotate(-90)','font-size':34,'text-anchor':'middle'});
  
  
  yt.appendChild(document.createTextNode('-log'));
  mk(yt,'tspan',{dy:7,'font-size':22},'10');
  mk(yt,'tspan',{dy:-7},'(Pvalue)');
}

drawVolcano({id:'control-model-pos',frame:{l:113,r:729,t:1038,b:1614},x0:466.3,kx:45.25,y0:1598.8,ky:151.2,legendDots:[165,376.5,539],legendY:996,tickBase:1642,titleBase:1676,subBase:1716,yTitleX:77,sub:'Control vs. Model',minus:false},plot1Down,plot1Up,plot1GrayRows.concat(plot1GrayDense),plot1XTicks,plot1YTicks,plot1Counts);
drawVolcano({id:'control-model-neg',frame:{l:868,r:1484,t:1038,b:1614},x0:1174.1,kx:50.6,y0:1601.3,ky:124.9,legendDots:[919.6,1141.6,1294.3],legendY:996,tickBase:1642,titleBase:1676,subBase:1716,yTitleX:829,sub:'Control vs. Model',minus:true},plot2Down,plot2Up,plot2GrayRows.concat(plot2GrayDense),plot2XTicks,plot2YTicks,plot2Counts);
drawVolcano({id:'control-aef-pos',frame:{l:113,r:729.5,t:1841.6,b:2418},x0:453.2,kx:40.5,y0:2409.5,ky:80.9,legendDots:[154.6,376.6,539.5],legendY:1799,tickBase:2446,titleBase:2479,subBase:2519,yTitleX:76,sub:'Control vs. AEF',minus:true},plot3Down,plot3Up,plot3GrayRows.concat(plot3GrayDense),plot3XTicks,plot3YTicks,plot3Counts);
drawVolcano({id:'control-aef-neg',frame:{l:868,r:1484,t:1841.6,b:2418},x0:1243.4,kx:60.8,y0:2403.4,ky:140.2,legendDots:[914.8,1136.8,1289.5],legendY:1799,tickBase:2446,titleBase:2479,subBase:2519,yTitleX:829,sub:'Control vs. AEF',minus:false},plot4Down,plot4Up,plot4GrayRows.concat(plot4GrayDense),plot4XTicks,plot4YTicks,plot4Counts);
drawVolcano({id:'model-aef-pos',frame:{l:113,r:729.5,t:2645.8,b:3221.5},x0:422.7,kx:49.8,y0:3212.4,ky:95.9,legendDots:[165.3,376.6,539.5],legendY:2604.4,tickBase:3250,titleBase:3285,subBase:3323,yTitleX:76,sub:'Model vs. AEF',minus:true},plot5Down,plot5Up,plot5GrayRows.concat(plot5GrayDense),plot5XTicks,plot5YTicks,plot5Counts);
drawVolcano({id:'model-aef-neg',frame:{l:868,r:1484,t:2645.8,b:3221.5},x0:1258.9,kx:68.1,y0:3206,ky:155.4,legendDots:[919.6,1131.4,1294.3],legendY:2604.4,tickBase:3250,titleBase:3285,subBase:3323,yTitleX:829,sub:'Model vs. AEF',minus:false},plot6Down,plot6Up,plot6GrayRows.concat(plot6GrayDense),plot6XTicks,plot6YTicks,plot6Counts);

/* ---------- heatmaps ---------- */
const scaleValues=[-2.4,-1.8,-1.25,-.8,-.35,0,.3,.75,1.3,1.85,2.4];
const scaleColors=[[5,48,97],[33,102,172],[67,147,195],[146,197,222],[209,229,240],[232,230,227],[253,219,199],[244,165,130],[214,96,77],[178,24,43],[103,0,31]];
function heatColor(v){
  const c=Math.max(-2.4,Math.min(2.4,v));
  let i=0;
  while(i<scaleValues.length-2&&c>scaleValues[i+1]){i++;}
  const t=(c-scaleValues[i])/(scaleValues[i+1]-scaleValues[i]);
  const a=scaleColors[i],b=scaleColors[i+1];
  return 'rgb('+a.map((q,k)=>Math.round(q+(b[k]-q)*t)).join(',')+')';
}
function drawHeatmap(cfg,rowLabels,values){
  const g=mk(root,'g',{});
  
  
  const colW=(cfg.r-cfg.l)/sampleNames.length;
  const rowH=(cfg.b-cfg.t)/rowLabels.length;

  // class annotation
  sampleClasses.forEach((c,j)=>{
    const r=mk(g,'rect',{x:cfg.l+j*colW,y:cfg.annT,width:colW,height:cfg.annB-cfg.annT,fill:classColors[c],stroke:'#9a9a9a','stroke-width':.8});
    
    
  });
  const ct=mk(g,'text',{class:'sans',x:cfg.r+5,y:cfg.annB-3,'font-size':17,'font-weight':'bold'},'class');
  
  

  // cells
  values.forEach((row,i)=>{
    row.forEach((v,j)=>{
      const r=mk(g,'rect',{x:cfg.l+j*colW,y:cfg.t+i*rowH,width:colW,height:rowH,fill:heatColor(v),stroke:'#9c9c9c','stroke-width':1.2});
      
      
    });
    const t=mk(g,'text',{class:'sans',x:cfg.r+5,y:cfg.t+i*rowH+rowH/2+5,'font-size':14.6,style:'fill:#222'},rowLabels[i]);
    
    
  });

  // sample labels
  sampleNames.forEach((nm,j)=>{
    const px=cfg.l+j*colW+colW/2-5;
    const t=mk(g,'text',{class:'sans',transform:'translate('+px+','+cfg.colLabelY+') rotate(90)','font-size':15,style:'fill:#222'},nm);
    
    
  });

  // dendrogram
  const bracket=mk(g,'path',{d:'M'+cfg.dTrunkX+' '+cfg.dY2+'H'+cfg.dLeafX+'M'+cfg.dTrunkX+' '+cfg.dY1+'V'+cfg.dY2+'M'+cfg.dTrunkX+' '+cfg.dY1+'H'+cfg.dLeafX,fill:'none',stroke:'#222','stroke-width':2});
  
  
  cfg.dStems.forEach(s=>{
    const l=mk(g,'line',{x1:s[0],x2:s[0],y1:s[1],y2:s[2],stroke:'#222','stroke-width':2.4});
    
    
  });

  // colorbar
  const cb=mk(g,'rect',{x:cfg.cbL,y:cfg.cbT,width:cfg.cbR-cfg.cbL,height:cfg.cbB-cfg.cbT,fill:'url(#rdbu)'});
  
  
  colorbarTicks.forEach(v=>{
    const yy=(cfg.cbT+cfg.cbB)/2-v*(cfg.cbB-cfg.cbT)/4.8;
    const t=mk(g,'text',{class:'sans',x:cfg.cbR+7,y:yy+6,'font-size':17,style:'fill:#222'},String(v));
    
    
  });

  // class legend
  const lt=mk(g,'text',{class:'sans',x:cfg.lgX,y:cfg.lgTitleY,'font-size':17,'font-weight':'bold'},'class');
  
  
  classNames.forEach((nm,i)=>{
    const yy=cfg.lgTop+i*cfg.lgStep;
    const r=mk(g,'rect',{x:cfg.lgX,y:yy,width:25,height:cfg.lgStep-1,fill:classColors[i],stroke:'#9a9a9a','stroke-width':.8});
    
    
    const t=mk(g,'text',{class:'sans',x:cfg.lgX+30,y:yy+cfg.lgStep/2+6,'font-size':18,style:'fill:#222'},nm);
    
    
  });
}
drawHeatmap({id:'esi-positive',l:1813.8,r:2597,t:967.4,b:2082,annT:942.5,annB:962.3,colLabelY:2088,dTrunkX:1717.7,dLeafX:1808,dY1:1327.3,dY2:2000.6,dStems:[[1808,1165,1485],[1811,990,1240],[1811,1530,2072]],cbL:2744.6,cbR:2764,cbT:940.5,cbB:1226.4,lgX:2798,lgTitleY:953.6,lgTop:960,lgStep:26.7},heatTopRows,heatTopValues);
drawHeatmap({id:'esi-negative',l:1812.3,r:2567,t:2309.5,b:3317.8,annT:2285.7,annB:2304,colLabelY:3323.5,dTrunkX:1719,dLeafX:1806,dY1:2607,dY2:3173.5,dStems:[[1808,2320,2700],[1808,3080,3300]],cbL:2721.5,cbR:2739,cbT:2284,cbB:2550,lgX:2773,lgTitleY:2297,lgTop:2303,lgStep:24.6},heatBottomRows,heatBottomValues);
</script>
</body>
</html>
